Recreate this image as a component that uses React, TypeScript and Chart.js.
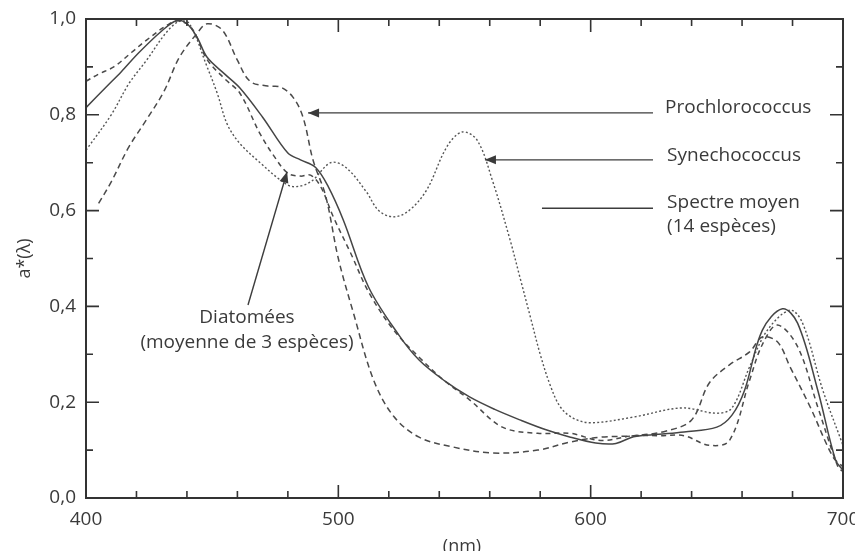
import React, { useEffect, useRef } from "react";
import { Chart, registerables } from "chart.js";

Chart.register(...registerables);

// ---- Data (wavelength in nm, a*(λ) normalised) ----
const meanWl = [400, 408, 414, 421, 430, 436, 440, 444, 448, 455, 461, 470, 480, 485, 491, 496, 502, 512, 524, 532, 542, 552, 562, 572, 582, 592, 602, 610, 617, 627, 637, 650, 656, 661, 668, 676, 682, 690, 697, 700];
const meanVal = [0.815, 0.858, 0.89, 0.93, 0.975, 0.997, 0.99, 0.962, 0.92, 0.885, 0.856, 0.795, 0.72, 0.706, 0.69, 0.65, 0.58, 0.44, 0.34, 0.288, 0.245, 0.211, 0.185, 0.163, 0.143, 0.127, 0.115, 0.114, 0.128, 0.133, 0.138, 0.148, 0.173, 0.225, 0.35, 0.395, 0.365, 0.225, 0.08, 0.058];

const synWl = [400, 410, 417, 424, 432, 437, 441, 448, 452, 456, 461, 469, 477, 482, 489, 497, 503, 511, 516, 522, 528, 535, 543, 549, 555, 561, 568, 572, 576, 580, 584, 588, 593, 600, 617, 636, 650, 656, 663, 670, 679, 684, 692, 700];
const synVal = [0.726, 0.8, 0.865, 0.914, 0.973, 0.995, 0.99, 0.9, 0.845, 0.78, 0.74, 0.7, 0.664, 0.65, 0.66, 0.7, 0.69, 0.64, 0.6, 0.587, 0.6, 0.643, 0.733, 0.764, 0.747, 0.664, 0.54, 0.46, 0.38, 0.3, 0.235, 0.19, 0.167, 0.157, 0.169, 0.188, 0.177, 0.188, 0.274, 0.35, 0.392, 0.365, 0.225, 0.11];

const proWl = [405, 410, 417, 424, 431, 437, 444, 448, 454, 460, 465, 472, 477, 482, 486, 490, 495, 500, 506, 514, 522, 532, 545, 561, 579, 592, 604, 617, 630, 640, 647, 655, 663, 668, 674, 679, 687, 696, 700];
const proVal = [0.615, 0.66, 0.733, 0.79, 0.85, 0.92, 0.97, 0.99, 0.977, 0.914, 0.87, 0.86, 0.858, 0.837, 0.795, 0.705, 0.63, 0.5, 0.386, 0.246, 0.17, 0.127, 0.107, 0.094, 0.1, 0.117, 0.127, 0.13, 0.14, 0.163, 0.24, 0.278, 0.305, 0.336, 0.326, 0.274, 0.19, 0.086, 0.065];

const diaWl = [400, 405, 411, 418, 424, 433, 437, 442, 448, 455, 461, 469, 475, 480, 485, 489, 493, 498, 505, 512, 522, 532, 542, 552, 565, 579, 592, 604, 617, 627, 637, 647, 655, 663, 668, 674, 682, 690, 698, 700];
const diaVal = [0.87, 0.885, 0.9, 0.93, 0.956, 0.99, 0.996, 0.98, 0.915, 0.875, 0.845, 0.76, 0.71, 0.678, 0.672, 0.674, 0.65, 0.587, 0.51, 0.43, 0.35, 0.294, 0.245, 0.205, 0.148, 0.135, 0.135, 0.12, 0.13, 0.13, 0.13, 0.11, 0.12, 0.246, 0.32, 0.361, 0.316, 0.19, 0.065, 0.055];

const xTickValues = [400, 500, 600, 700];
const yTickValues = [0, 0.2, 0.4, 0.6, 0.8, 1.0];

const FONT = '"Open Sans", "DejaVu Sans", sans-serif';
const TEXT = "#3a3a3a";
const AXIS = "#333333";
const LINE = "#454545";

const toPts = (xs: number[], ys: number[]) => xs.map((x, i) => ({ x, y: ys[i] }));

function arrowLine(ctx: CanvasRenderingContext2D, x1: number, y1: number, x2: number, y2: number, head: boolean) {
  ctx.beginPath();
  ctx.moveTo(x1, y1);
  ctx.lineTo(x2, y2);
  ctx.stroke();
  if (head) {
    const ang = Math.atan2(y2 - y1, x2 - x1);
    const L = 11, W = 4.5;
    ctx.beginPath();
    ctx.moveTo(x2, y2);
    ctx.lineTo(x2 - L * Math.cos(ang) + W * Math.sin(ang), y2 - L * Math.sin(ang) - W * Math.cos(ang));
    ctx.lineTo(x2 - L * Math.cos(ang) - W * Math.sin(ang), y2 - L * Math.sin(ang) + W * Math.cos(ang));
    ctx.closePath();
    ctx.fill();
  }
}

const framePlugin = {
  id: "frameAndNotes",
  afterDraw(chart: any) {
    const { ctx, chartArea: a, scales } = chart;
    const x = scales.x, y = scales.y;
    ctx.save();
    // frame
    ctx.strokeStyle = AXIS;
    ctx.lineWidth = 2;
    ctx.strokeRect(a.left, a.top, a.right - a.left, a.bottom - a.top);
    // ticks (inward)
    ctx.lineWidth = 1.6;
    for (let v = 400; v <= 700; v += 20) {
      const px = x.getPixelForValue(v);
      const len = v % 100 === 0 ? 13 : 7;
      ctx.beginPath();
      ctx.moveTo(px, a.bottom); ctx.lineTo(px, a.bottom - len);
      ctx.moveTo(px, a.top); ctx.lineTo(px, a.top + len);
      ctx.stroke();
    }
    for (let i = 0; i <= 10; i++) {
      const py = y.getPixelForValue(i / 10);
      const len = i % 2 === 0 ? 13 : 7;
      ctx.beginPath();
      ctx.moveTo(a.left, py); ctx.lineTo(a.left + len, py);
      ctx.moveTo(a.right, py); ctx.lineTo(a.right - len, py);
      ctx.stroke();
    }

    // annotations
    ctx.fillStyle = TEXT;
    ctx.strokeStyle = "#3c3c3c";
    ctx.lineWidth = 1.4;
    const X = (v: number) => x.getPixelForValue(v);
    const Y = (v: number) => y.getPixelForValue(v);
    arrowLine(ctx, X(624.7), Y(0.804), X(488.0), Y(0.804), true);
    arrowLine(ctx, X(624.7), Y(0.706), X(558.1), Y(0.706), true);
    arrowLine(ctx, X(624.7), Y(0.605), X(580.7), Y(0.605), false);
    arrowLine(ctx, X(464.2), Y(0.403), X(479.7), Y(0.681), true);

    ctx.font = `19px ${FONT}`;
    ctx.textBaseline = "alphabetic";
    ctx.textAlign = "left";
    ctx.fillText("Prochlorococcus", X(629.5), Y(0.804));
    ctx.fillText("Synechococcus", X(630.3), Y(0.7035));
    ctx.fillText("Spectre moyen", X(630.3), Y(0.605));
    ctx.fillText("(14 espèces)", X(630.3), Y(0.555));
    ctx.textAlign = "center";
    ctx.fillText("Diatomées", X(463.8), Y(0.365));
    ctx.fillText("(moyenne de 3 espèces)", X(463.8), Y(0.313));

    // axis titles
    ctx.font = `18px ${FONT}`;
    ctx.textAlign = "center";
    ctx.textBaseline = "top";
    ctx.fillText("(nm)", X(549), a.bottom + 40);
    ctx.translate(a.left - 61, Y(0.5));
    ctx.rotate(-Math.PI / 2);
    ctx.textBaseline = "middle";
    ctx.fillText("a*(λ)", 0, 0);
    ctx.restore();
  },
};

export default function App() {
  const ref = useRef<HTMLCanvasElement | null>(null);
  useEffect(() => {
    document.body.style.margin = "0";
    const canvas = ref.current!;
    const common = { pointRadius: 0, fill: false, tension: 0.35 };
    const chart = new Chart(canvas, {
      type: "line",
      data: {
        datasets: [
          { ...common, label: "Spectre moyen (14 espèces)", data: toPts(meanWl, meanVal), borderColor: LINE, borderWidth: 1.5 },
          { ...common, label: "Synechococcus", data: toPts(synWl, synVal), borderColor: "#555", borderWidth: 1.4, borderDash: [2, 2.2] },
          { ...common, label: "Prochlorococcus", data: toPts(proWl, proVal), borderColor: "#4a4a4a", borderWidth: 1.5, borderDash: [6, 4] },
          { ...common, label: "Diatomées (moyenne de 3 espèces)", data: toPts(diaWl, diaVal), borderColor: "#4a4a4a", borderWidth: 1.5, borderDash: [5, 4] },
        ],
      },
      options: {
        responsive: false,
        animation: false,
        devicePixelRatio: 1,
        layout: { padding: { top: 19, right: 12, left: 0, bottom: 0 }, autoPadding: false },
        plugins: { legend: { display: false }, tooltip: { enabled: false } },
        scales: {
          x: {
            type: "linear",
            min: 400,
            max: 700,
            grid: { display: false, drawTicks: false },
            border: { display: false },
            afterBuildTicks: (s: any) => { s.ticks = xTickValues.map((v) => ({ value: v })); },
            ticks: { padding: 10, color: TEXT, font: { family: FONT, size: 19 }, maxRotation: 0, callback: (v: any) => String(v) },
            afterFit: (s: any) => { s.height = 53; s.paddingLeft = 0; s.paddingRight = 0; },
          },
          y: {
            type: "linear",
            min: 0,
            max: 1,
            grid: { display: false, drawTicks: false },
            border: { display: false },
            afterBuildTicks: (s: any) => { s.ticks = yTickValues.map((v) => ({ value: v })); },
            ticks: { padding: 10, color: TEXT, font: { family: FONT, size: 19 }, callback: (v: any) => Number(v).toFixed(1).replace(".", ",") },
            afterFit: (s: any) => { s.width = 86; s.paddingTop = 0; s.paddingBottom = 0; },
          },
        },
      },
      plugins: [framePlugin],
    });
    return () => chart.destroy();
  }, []);
  return (
    <div style={{ width: 855, height: 551, background: "#fff" }}>
      <canvas ref={ref} width={855} height={551} style={{ display: "block", width: 855, height: 551 }} />
    </div>
  );
}
